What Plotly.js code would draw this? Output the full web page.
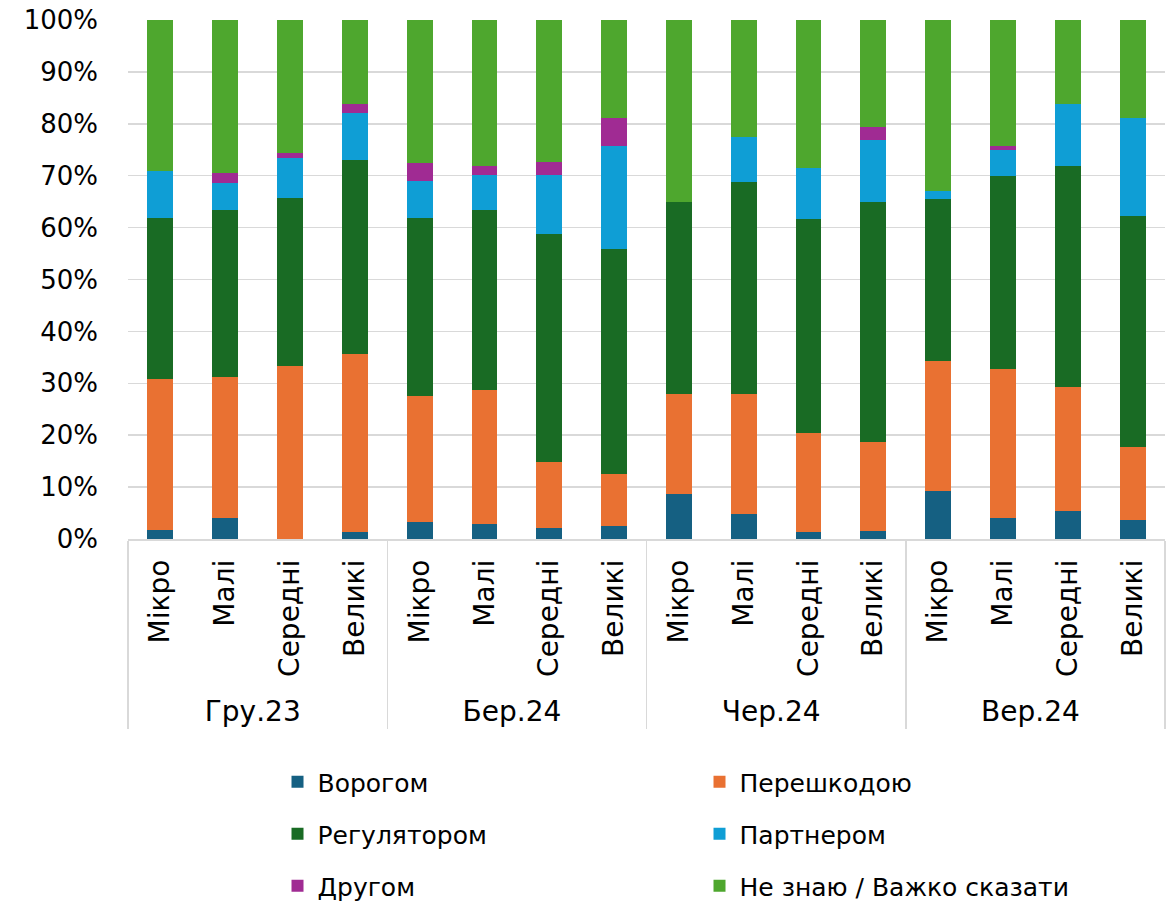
<!DOCTYPE html>
<html>
<head>
<meta charset="utf-8">
<script src="https://cdn.plot.ly/plotly-3.0.1.min.js"></script>
<style>html,body{margin:0;padding:0;background:#fff;}#chart{width:1166px;height:904px;}</style>
</head>
<body>
<div id="chart"></div>
<script>
const periods = ["Гру.23", "Бер.24", "Чер.24", "Вер.24"];
const sizes = ["Мікро", "Малі", "Середні", "Великі"];
const seriesNames = ["Ворогом", "Перешкодою", "Регулятором", "Партнером", "Другом", "Не знаю / Важко сказати"];
const seriesColors = ["#156082", "#E97132", "#196B24", "#0F9ED5", "#A02B93", "#4EA72E"];

// values in %, order: Гру.23 (Мікро, Малі, Середні, Великі), Бер.24 ..., Чер.24 ..., Вер.24 ...
const vorogom     = [1.7, 4.0, 0.0, 1.4,   3.3, 2.8, 2.1, 2.6,   8.6, 4.8, 1.4, 1.6,   9.3, 4.1, 5.4, 3.7];
const pereshkodoyu= [29.1, 27.3, 33.4, 34.2,   24.3, 25.9, 12.8, 9.9,   19.3, 23.1, 19.1, 17.1,   25.0, 28.7, 23.9, 14.1];
const regulyatorom= [31.0, 32.0, 32.4, 37.5,   34.3, 34.7, 43.8, 43.3,   37.0, 40.9, 41.2, 46.2,   31.3, 37.2, 42.5, 44.4];
const partnerom   = [9.1, 5.3, 7.6, 9.0,   7.0, 6.7, 11.4, 19.9,   0.0, 8.6, 9.7, 11.9,   1.5, 5.0, 12.1, 18.9];
const drugom      = [0.0, 1.9, 1.0, 1.7,   3.5, 1.8, 2.6, 5.4,   0.0, 0.0, 0.0, 2.6,   0.0, 0.7, 0.0, 0.0];
const neZnayu     = [29.1, 29.5, 25.6, 16.2,   27.6, 28.1, 27.3, 18.9,   35.1, 22.6, 28.6, 20.6,   32.9, 24.3, 16.1, 18.9];

const seriesValues = [vorogom, pereshkodoyu, regulyatorom, partnerom, drugom, neZnayu];
const legendIds = ["legend", "legend", "legend2", "legend2", "legend3", "legend3"];

const xOuter = [], xInner = [];
periods.forEach(p => sizes.forEach(s => { xOuter.push(p); xInner.push(s); }));

const FONT = "'DejaVu Sans', 'Liberation Sans', sans-serif";

const traces = seriesNames.map((name, i) => ({
  type: "bar",
  name: name,
  x: [xOuter, xInner],
  y: seriesValues[i].map(v => v / 100),
  marker: { color: seriesColors[i], line: { width: 0 } },
  legend: legendIds[i],
  hovertemplate: "%{y:.1%}<extra>" + name + "</extra>"
}));

const legendBase = {
  orientation: "h",
  xref: "container",
  yref: "container",
  xanchor: "left",
  yanchor: "middle",
  x: 0.238,
  entrywidth: 377,
  entrywidthmode: "pixels",
  traceorder: "normal",
  font: { family: FONT, size: 25, color: "#000" },
  bgcolor: "rgba(0,0,0,0)"
};

const layout = {
  width: 1166,
  height: 904,
  margin: { l: 128, r: 1, t: 20, b: 365 },
  paper_bgcolor: "#fff",
  plot_bgcolor: "#fff",
  barmode: "stack",
  bargap: 0.6,
  font: { family: FONT, size: 26, color: "#000" },
  showlegend: true,
  legend: Object.assign({}, legendBase, { y: 1 - 782 / 904 }),
  legend2: Object.assign({}, legendBase, { y: 1 - 834 / 904 }),
  legend3: Object.assign({}, legendBase, { y: 1 - 886 / 904 }),
  xaxis: {
    type: "multicategory",
    tickangle: -90,
    tickfont: { family: FONT, size: 28, color: "#000" },
    ticklabelstandoff: 8,
    showline: true,
    linecolor: "#d9d9d9",
    linewidth: 1.5,
    showdividers: true,
    dividercolor: "#d9d9d9",
    dividerwidth: 1.5,
    ticks: "",
    showgrid: false,
    automargin: false
  },
  yaxis: {
    range: [0, 1],
    dtick: 0.1,
    tickformat: ".0%",
    showgrid: true,
    gridcolor: "#d9d9d9",
    gridwidth: 1.5,
    zeroline: false,
    showline: false,
    ticks: "",
    ticklabelstandoff: 29,
    automargin: false,
    tickfont: { family: FONT, size: 26, color: "#000" }
  }
};

Plotly.newPlot("chart", traces, layout, { displayModeBar: false, staticPlot: true });
</script>
</body>
</html>
